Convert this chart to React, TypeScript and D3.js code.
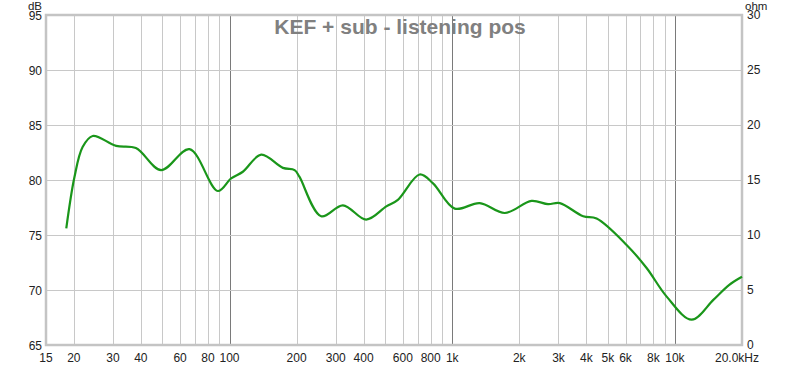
import React, { useRef, useEffect } from 'react';
import * as d3 from 'd3';

const freqs = [18.5, 20.1, 21.9, 24.3, 31, 38, 49.3, 66.1, 88.6, 101.7, 114.8, 138.8, 173.6, 196, 206, 258, 323, 411, 506, 570, 714, 820, 1026, 1329, 1722, 2270, 2693, 3041, 3873, 4448, 6066, 7460, 9180, 11890, 14870, 17480, 20000];
const splDb = [75.6, 80.2, 83.0, 84.0, 83.1, 82.9, 80.9, 82.8, 79.0, 80.15, 80.75, 82.3, 81.1, 80.9, 80.3, 76.7, 77.7, 76.4, 77.6, 78.2, 80.5, 79.7, 77.4, 77.9, 77.0, 78.1, 77.8, 77.9, 76.7, 76.5, 74.1, 72.0, 69.4, 67.3, 69.1, 70.45, 71.2];

const dbTicks = [65, 70, 75, 80, 85, 90, 95];
const ohmTicks = [0, 5, 10, 15, 20, 25, 30];
const freqLabels: [number, string][] = [
  [15, '15'], [20, '20'], [30, '30'], [40, '40'], [60, '60'], [80, '80'], [100, '100'],
  [200, '200'], [300, '300'], [400, '400'], [600, '600'], [800, '800'], [1000, '1k'],
  [2000, '2k'], [3000, '3k'], [4000, '4k'], [5000, '5k'], [6000, '6k'], [8000, '8k'], [10000, '10k'],
  [20000, '20.0kHz'],
];
const title = 'KEF + sub - listening pos';

const App: React.FC = () => {
  const svgRef = useRef<SVGSVGElement>(null);

  useEffect(() => {
    document.body.style.margin = '0';
    const svg = d3.select(svgRef.current);
    svg.selectAll('*').remove();

    const left = 46, right = 742, top = 15, bottom = 345;
    const x = d3.scaleLog().domain([15, 20000]).range([left, right]);
    const y = d3.scaleLinear().domain([65, 95]).range([bottom, top]);
    const yOhm = d3.scaleLinear().domain([0, 30]).range([bottom, top]);
    const font = 'Arial, "Liberation Sans", sans-serif';

    // grid: vertical lines at every 1..9 multiple
    const gridFreqs: number[] = [];
    for (const dec of [10, 100, 1000, 10000]) {
      for (let m = 1; m <= 9; m++) {
        const f = dec * m;
        if (f > 15 && f < 20000) gridFreqs.push(f);
      }
    }
    const g = svg.append('g');
    g.selectAll('.vgrid')
      .data(gridFreqs)
      .enter()
      .append('line')
      .attr('x1', (d) => Math.round(x(d)) + 0.5)
      .attr('x2', (d) => Math.round(x(d)) + 0.5)
      .attr('y1', top)
      .attr('y2', bottom)
      .attr('stroke', (d) => ([100, 1000, 10000].includes(d) ? '#7a7a7a' : '#c8c8c8'))
      .attr('stroke-width', 1);

    g.selectAll('.hgrid')
      .data(dbTicks.slice(1, -1))
      .enter()
      .append('line')
      .attr('x1', left)
      .attr('x2', right)
      .attr('y1', (d) => Math.round(y(d)) + 0.5)
      .attr('y2', (d) => Math.round(y(d)) + 0.5)
      .attr('stroke', '#c8c8c8');

    // frame
    svg.append('rect')
      .attr('x', left)
      .attr('y', top)
      .attr('width', right - left)
      .attr('height', bottom - top)
      .attr('fill', 'none')
      .attr('stroke', '#c4c4c4')
      .attr('stroke-width', 2.5);

    // title
    svg.append('text')
      .attr('x', 400)
      .attr('y', 34)
      .attr('text-anchor', 'middle')
      .attr('font-family', font)
      .attr('font-weight', 'bold')
      .attr('font-size', 21)
      .attr('fill', '#808080')
      .text(title);

    // curve
    const line = d3
      .line<number>()
      .x((d, i) => x(freqs[i]))
      .y((d) => y(d))
      .curve(d3.curveCatmullRom.alpha(0.5));
    svg.append('path')
      .datum(splDb)
      .attr('fill', 'none')
      .attr('stroke', '#1a961a')
      .attr('stroke-width', 2.2)
      .attr('d', line);

    // left axis labels
    svg.selectAll('.ly')
      .data(dbTicks)
      .enter()
      .append('text')
      .attr('x', 42)
      .attr('y', (d) => y(d) + 4.5)
      .attr('text-anchor', 'end')
      .attr('font-family', font)
      .attr('font-size', 12)
      .attr('fill', '#222')
      .text((d) => d);
    svg.append('text')
      .attr('x', 42).attr('y', 9.5).attr('text-anchor', 'end')
      .attr('font-family', font).attr('font-size', 11.5).attr('fill', '#222')
      .text('dB');

    // right axis labels
    svg.selectAll('.ry')
      .data(ohmTicks)
      .enter()
      .append('text')
      .attr('x', 747)
      .attr('y', (d) => yOhm(d) + 4)
      .attr('font-family', font)
      .attr('font-size', 12)
      .attr('fill', '#222')
      .text((d) => d);
    svg.append('text')
      .attr('x', 745).attr('y', 9.5)
      .attr('font-family', font).attr('font-size', 11.5).attr('fill', '#222')
      .text('ohm');

    // x labels
    svg.selectAll('.xl')
      .data(freqLabels)
      .enter()
      .append('text')
      .attr('x', (d) => (d[0] === 20000 ? x(d[0]) - 5 : x(d[0])))
      .attr('y', 362)
      .attr('text-anchor', 'middle')
      .attr('font-family', font)
      .attr('font-size', 12)
      .attr('fill', '#222')
      .text((d) => d[1]);
  }, []);

  return <svg ref={svgRef} width={800} height={367} style={{ display: 'block', background: '#fff' }} />;
};

export default App;
